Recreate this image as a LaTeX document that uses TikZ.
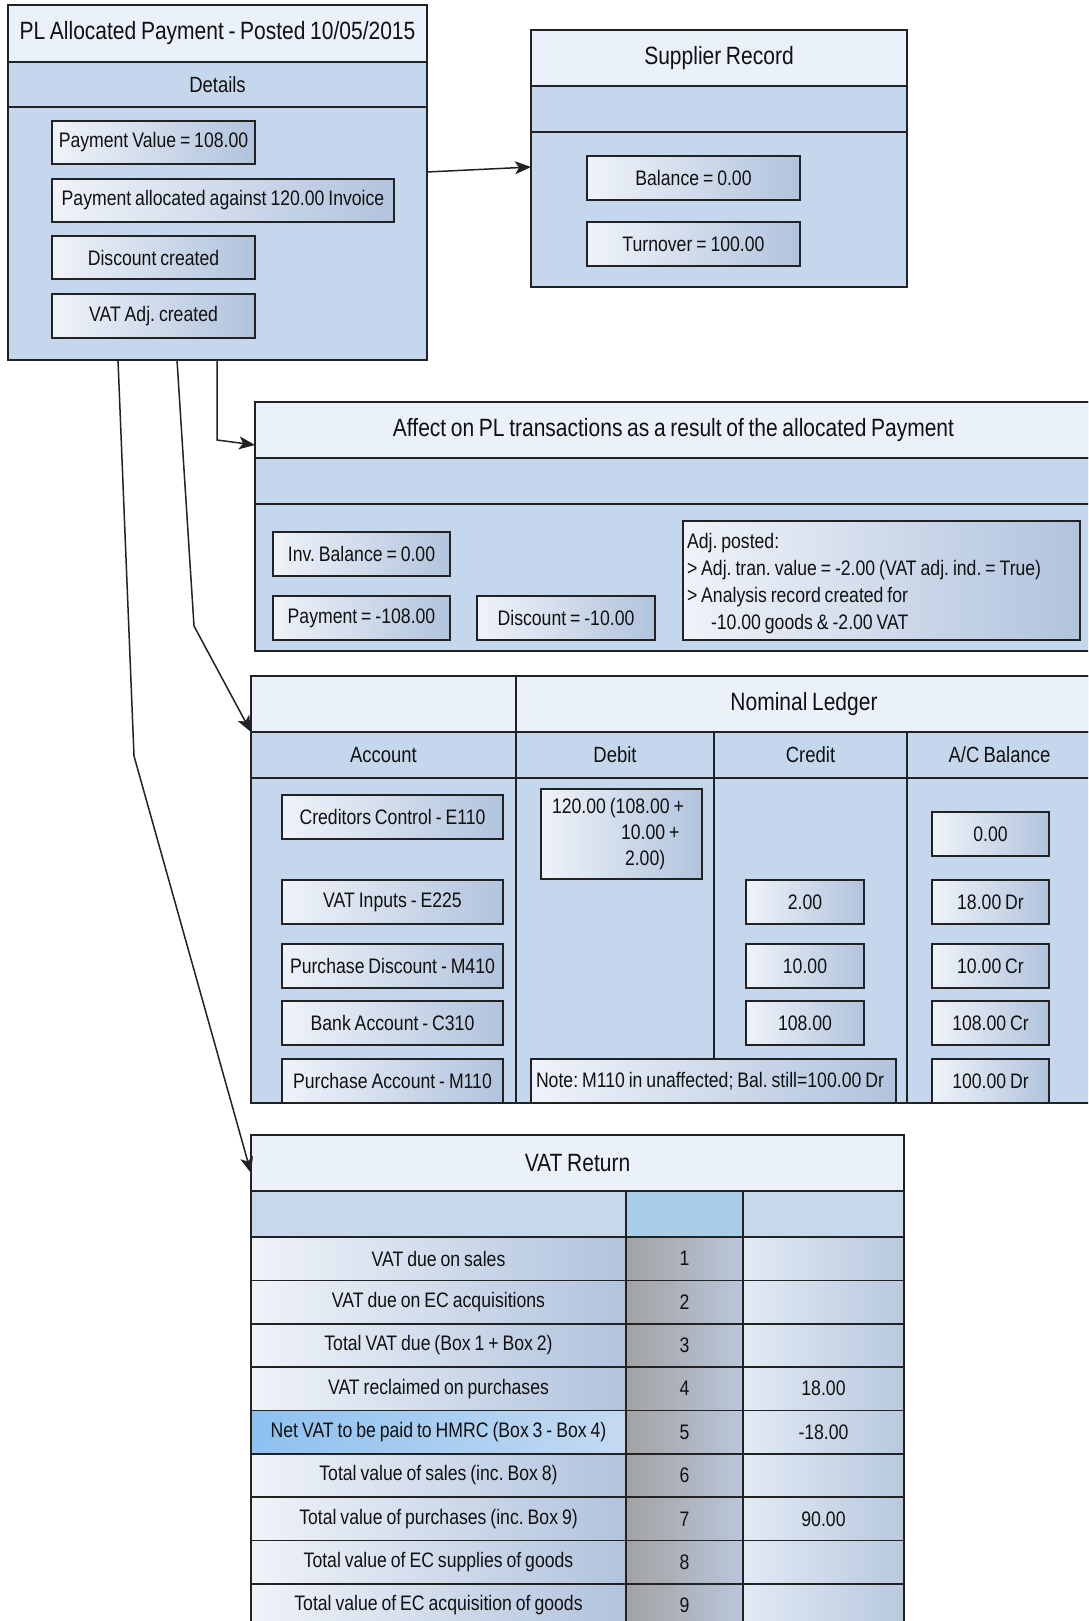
\documentclass[tikz,border=0pt]{standalone}
\usepackage{fontspec}
\setmainfont{Liberation Sans}[FakeStretch=0.84, WordSpace=0.8]
\frenchspacing
\usetikzlibrary{arrows.meta,calc}

\definecolor{linec}{HTML}{222222}
\definecolor{headc}{HTML}{EAF1FB}
\definecolor{bodyc}{HTML}{C5D7EC}
\definecolor{boxl}{HTML}{EFF3F9}
\definecolor{boxr}{HTML}{B1C3DD}
\definecolor{greyl}{HTML}{A2A2A2}
\definecolor{greyr}{HTML}{BAC6DA}
\definecolor{vall}{HTML}{E2EAF4}
\definecolor{valr}{HTML}{B8C8DF}
\definecolor{hil}{HTML}{8EC1F0}
\definecolor{hir}{HTML}{C3DAF1}
\definecolor{subl}{HTML}{C8D8EB}
\definecolor{subm}{HTML}{A9CCE7}
\definecolor{txt}{HTML}{111111}

\tikzset{
  base/.style={draw=linec, line width=1.7pt, inner sep=0pt, outer sep=0pt, text=txt},
  band/.style={base, fill=headc, font=\fontsize{25}{30}\selectfont},
  panel/.style={base, fill=bodyc, font=\fontsize{22}{26}\selectfont},
  item/.style={base, left color=boxl, right color=boxr, font=\fontsize{21}{27}\selectfont},
  numcell/.style={base, left color=greyl, right color=greyr, font=\fontsize{21}{27}\selectfont},
  valcell/.style={base, left color=vall, right color=valr, font=\fontsize{21}{27}\selectfont},
  hicell/.style={base, left color=hil, right color=hir, font=\fontsize{21}{27}\selectfont},
  plain/.style={inner sep=0pt, outer sep=0pt, text=txt, font=\fontsize{21}{27}\selectfont},
  grid/.style={draw=linec, line width=1.7pt},
  conn/.style={draw=linec, line width=1.5pt, -{Stealth[length=16pt,width=13pt,inset=4pt]}},
}

% \rect{style}{x1}{y1}{x2}{y2}{name}{text}
\newcommand\rect[7]{\node[#1, minimum width={(#4)-(#2)}, minimum height={(#5)-(#3)}]
  (#6) at ({((#2)+(#4))/2},{((#3)+(#5))/2}) {#7};}

\begin{document}
\begin{tikzpicture}[x=1pt,y=-1pt]
\clip (0,0) rectangle (1088,1621);
\fill[white] (0,0) rectangle (1088,1621);

% ---- PL allocated payment ----
\rect{panel}{8}{5}{427}{360}{main}{}
\rect{band}{8}{5}{427}{62}{mainT}{PL Allocated Payment - Posted 10/05/2015}
\rect{panel}{8}{62}{427}{107}{mainD}{Details}
\rect{item}{52}{121}{255}{164}{pv}{Payment Value = 108.00}
\rect{item}{52}{179}{394}{222}{pa}{Payment allocated against 120.00 Invoice}
\rect{item}{52}{236}{255}{279}{dc}{Discount created}
\rect{item}{52}{294}{255}{338}{va}{VAT Adj. created}

% ---- Supplier record ----
\rect{panel}{531}{30}{907}{287}{sup}{}
\rect{band}{531}{30}{907}{86}{supT}{Supplier Record}
\rect{panel}{531}{86}{907}{132}{supS}{}
\rect{item}{587}{156}{800}{200}{bal}{Balance = 0.00}
\rect{item}{587}{222}{800}{266}{turn}{Turnover = 100.00}

% ---- PL transactions ----
\rect{panel}{255}{402}{1092}{651}{aff}{}
\rect{band}{255}{402}{1092}{458}{affT}{Affect on PL transactions as a result of the allocated Payment}
\rect{panel}{255}{458}{1092}{504}{affS}{}
\rect{item}{273}{532}{450}{576}{inv}{Inv. Balance = 0.00}
\rect{item}{273}{596}{450}{640}{pay}{Payment = -108.00}
\rect{item}{477}{596}{655}{640}{disc}{Discount = -10.00}
\rect{item}{683}{521}{1080}{640}{adj}{}
\node[plain, anchor=west, align=left] (adjtxt) at (687,584)
  {Adj. posted:\\
   > Adj. tran. value = -2.00 (VAT adj. ind. = True)\\
   > Analysis record created for\\
   \hspace*{24pt}-10.00 goods \& -2.00 VAT};

% ---- Nominal ledger ----
\rect{panel}{251}{676}{1092}{1103}{nl}{}
\rect{band}{251}{676}{516}{732}{nlA}{}
\rect{band}{516}{676}{1092}{732}{nlT}{Nominal Ledger}
\rect{panel}{251}{732}{516}{778}{hAcc}{Account}
\rect{panel}{516}{732}{714}{778}{hDeb}{Debit}
\rect{panel}{714}{732}{907}{778}{hCre}{Credit}
\rect{panel}{907}{732}{1092}{778}{hBal}{A/C Balance}
\rect{item}{531}{1059}{896}{1103}{note}{}
\draw[grid] (hAcc.south east) -- (hAcc.south east |- nl.south);
\draw[grid] (hDeb.south east) -- (hDeb.south east |- note.north);
\draw[grid] (hCre.south east) -- (hCre.south east |- nl.south);
\node[plain, anchor=west] (notetxt) at (536,1081)
  {Note: M110 in unaffected; Bal. still=100.00 Dr};

\rect{item}{282}{795}{503}{839}{aE110}{Creditors Control - E110}
\rect{item}{282}{880}{503}{924}{aE225}{VAT Inputs - E225}
\rect{item}{282}{944}{503}{988}{aM410}{Purchase Discount - M410}
\rect{item}{282}{1001}{503}{1045}{aC310}{Bank Account - C310}
\rect{item}{282}{1059}{503}{1103}{aM110}{Purchase Account - M110}

\rect{item}{541}{789}{702}{879}{dE110}{}
\node[plain, anchor=west, align=left, font=\fontsize{21}{26}\selectfont] (dtxt) at (552,834)
  {120.00 (108.00 +\\ \hspace*{69pt}10.00 +\\ \hspace*{73pt}2.00)};

\rect{item}{746}{880}{864}{924}{cE225}{2.00}
\rect{item}{746}{944}{864}{988}{cM410}{10.00}
\rect{item}{746}{1001}{864}{1045}{cC310}{108.00}

\rect{item}{932}{812}{1049}{856}{bE110}{0.00}
\rect{item}{932}{880}{1049}{924}{bE225}{18.00 Dr}
\rect{item}{932}{944}{1049}{988}{bM410}{10.00 Cr}
\rect{item}{932}{1001}{1049}{1045}{bC310}{108.00 Cr}
\rect{item}{932}{1059}{1049}{1103}{bM110}{100.00 Dr}

% ---- VAT return ----
\rect{panel}{251}{1135}{904}{1640}{vat}{}
\rect{band}{251}{1135}{904}{1191}{vatT}{VAT Return}
\node[base, fill=subl, minimum width=375, minimum height=46] (vh1) at (438.5,1214) {};
\node[base, fill=subm, minimum width=117, minimum height=46] (vh2) at (684.5,1214) {};
\node[base, fill=subl, minimum width=161, minimum height=46] (vh3) at (823.5,1214) {};
\foreach \lab/\val [count=\i] in {%
  VAT due on sales/,
  VAT due on EC acquisitions/,
  Total VAT due (Box 1 + Box 2)/,
  VAT reclaimed on purchases/18.00,
  Net VAT to be paid to HMRC (Box 3 - Box 4)/-18.00,
  Total value of sales (inc. Box 8)/,
  Total value of purchases (inc. Box 9)/90.00,
  Total value of EC supplies of goods/,
  Total value of EC acquisition of goods/} {
  \pgfmathsetmacro\yc{1237+(\i-0.5)*43.35}
  \ifnum\i=5
    \node[hicell, minimum width=375, minimum height=43.35] (lab\i) at (438.5,\yc) {\lab};
  \else
    \node[item, minimum width=375, minimum height=43.35] (lab\i) at (438.5,\yc) {\lab};
  \fi
  \node[numcell, minimum width=117, minimum height=43.35] (box\i) at (684.5,\yc) {\i};
  \node[valcell, minimum width=161, minimum height=43.35] (val\i) at (823.5,\yc) {\val};
}

% ---- connectors ----
\coordinate (bendA) at (217,440);
\coordinate (bendN) at (194,626);
\coordinate (bendV) at (134,756);
\draw[conn] ([yshift=-167pt]main.north east) -- ([yshift=-137pt]sup.north west);
\draw[conn] ([xshift=209pt]main.south west) -- (bendA) -- ([yshift=-43pt]aff.north west);
\draw[conn] ([xshift=169pt]main.south west) -- (bendN) -- (hAcc.north west);
\draw[conn] ([xshift=110pt]main.south west) -- (bendV) -- ([yshift=-38pt]vat.north west);
\end{tikzpicture}
\end{document}
